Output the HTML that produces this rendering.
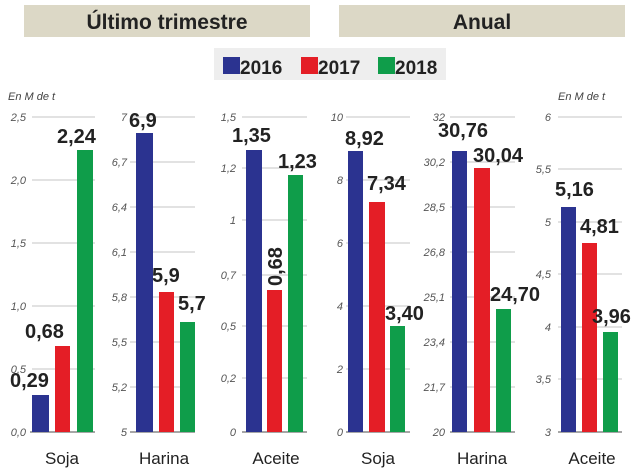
<!DOCTYPE html><html><head><meta charset="utf-8"><style>body{margin:0;background:#fff}svg{display:block}</style></head><body>
<svg width="640" height="475" xmlns="http://www.w3.org/2000/svg" font-family="Liberation Sans, sans-serif">
<rect x="24" y="5" width="286" height="32" fill="#dcd8c6"/>
<rect x="339" y="5" width="286" height="32" fill="#dcd8c6"/>
<text x="167" y="29" font-size="21" font-weight="bold" text-anchor="middle" fill="#222">Último trimestre</text>
<text x="482" y="29" font-size="21" font-weight="bold" text-anchor="middle" fill="#222">Anual</text>
<rect x="214" y="48" width="232" height="32" fill="#eeeeee"/>
<rect x="223" y="57" width="17" height="17" fill="#2b3390"/><text x="240" y="74" font-size="19" font-weight="bold" fill="#222">2016</text>
<rect x="301" y="57" width="17" height="17" fill="#e41e26"/><text x="318" y="74" font-size="19" font-weight="bold" fill="#222">2017</text>
<rect x="378" y="57" width="17" height="17" fill="#0f9d4a"/><text x="395" y="74" font-size="19" font-weight="bold" fill="#222">2018</text>
<g font-size="11" font-style="italic" fill="#444"><text x="8" y="100">En M de t</text><text x="558" y="100">En M de t</text></g>
<g stroke="#c4c4c4" stroke-width="1">
<path d="M32 117H95M32 180H95M32 243H95M32 306H95M32 369H95"/>
<path d="M130 117H195M130 162H195M130 207H195M130 252H195M130 297H195M130 342H195M130 387H195"/>
<path d="M242 117H307M242 168H307M242 220H307M242 275H307M242 326H307M242 378H307"/>
<path d="M346 117H410M346 180H410M346 243H410M346 306H410M346 369H410"/>
<path d="M450 117H515M450 162H515M450 207H515M450 252H515M450 297H515M450 342H515M450 387H515"/>
<path d="M558 117H622M558 169H622M558 222H622M558 274H622M558 327H622M558 379H622"/>
</g>
<g stroke="#888" stroke-width="1.5"><path d="M30 432H95M130 432H195M242 432H307M346 432H410M450 432H515M558 432H622"/></g>
<g font-size="11" font-style="italic" fill="#555" text-anchor="end">
<text x="26" y="121">2,5</text><text x="26" y="184">2,0</text><text x="26" y="247">1,5</text><text x="26" y="310">1,0</text><text x="26" y="373">0,5</text><text x="26" y="436">0,0</text>
<text x="127" y="121">7</text><text x="127" y="166">6,7</text><text x="127" y="211">6,4</text><text x="127" y="256">6,1</text><text x="127" y="301">5,8</text><text x="127" y="346">5,5</text><text x="127" y="391">5,2</text><text x="127" y="436">5</text>
<text x="236" y="121">1,5</text><text x="236" y="172">1,2</text><text x="236" y="224">1</text><text x="236" y="279">0,7</text><text x="236" y="330">0,5</text><text x="236" y="382">0,2</text><text x="236" y="436">0</text>
<text x="343" y="121">10</text><text x="343" y="184">8</text><text x="343" y="247">6</text><text x="343" y="310">4</text><text x="343" y="373">2</text><text x="343" y="436">0</text>
<text x="445" y="121">32</text><text x="445" y="166">30,2</text><text x="445" y="211">28,5</text><text x="445" y="256">26,8</text><text x="445" y="301">25,1</text><text x="445" y="346">23,4</text><text x="445" y="391">21,7</text><text x="445" y="436">20</text>
<text x="551" y="121">6</text><text x="551" y="173">5,5</text><text x="551" y="226">5</text><text x="551" y="278">4,5</text><text x="551" y="331">4</text><text x="551" y="383">3,5</text><text x="551" y="436">3</text>
</g>
<g fill="#2b3390"><rect x="32" y="395" width="17" height="37"/><rect x="136" y="133" width="17" height="299"/><rect x="246" y="150" width="16" height="282"/><rect x="348" y="151" width="15" height="281"/><rect x="452" y="151" width="15" height="281"/><rect x="561" y="207" width="15" height="225"/></g>
<g fill="#e41e26"><rect x="55" y="346" width="15" height="86"/><rect x="159" y="292" width="15" height="140"/><rect x="267" y="290" width="15" height="142"/><rect x="369" y="202" width="16" height="230"/><rect x="474" y="168" width="16" height="264"/><rect x="582" y="243" width="15" height="189"/></g>
<g fill="#0f9d4a"><rect x="77" y="150" width="16" height="282"/><rect x="180" y="322" width="15" height="110"/><rect x="288" y="175" width="15" height="257"/><rect x="390" y="326" width="15" height="106"/><rect x="496" y="309" width="15" height="123"/><rect x="603" y="332" width="15" height="100"/></g>
<g font-size="20" font-weight="bold" fill="#222">
<text x="10" y="387">0,29</text><text x="25" y="338">0,68</text><text x="57" y="143">2,24</text>
<text x="129" y="127">6,9</text><text x="152" y="282">5,9</text><text x="178" y="310">5,7</text>
<text x="232" y="142">1,35</text><text x="278" y="168">1,23</text>
<text transform="translate(282,286) rotate(-90)">0,68</text>
<text x="345" y="145">8,92</text><text x="367" y="190">7,34</text><text x="385" y="320">3,40</text>
<text x="438" y="137">30,76</text><text x="473" y="162">30,04</text><text x="490" y="301">24,70</text>
<text x="555" y="196">5,16</text><text x="580" y="233">4,81</text><text x="592" y="323">3,96</text>
</g>
<g font-size="17" fill="#222" text-anchor="middle">
<text x="62" y="464">Soja</text><text x="164" y="464">Harina</text><text x="276" y="464">Aceite</text><text x="378" y="464">Soja</text><text x="482" y="464">Harina</text><text x="592" y="464">Aceite</text>
</g>
</svg></body></html>
